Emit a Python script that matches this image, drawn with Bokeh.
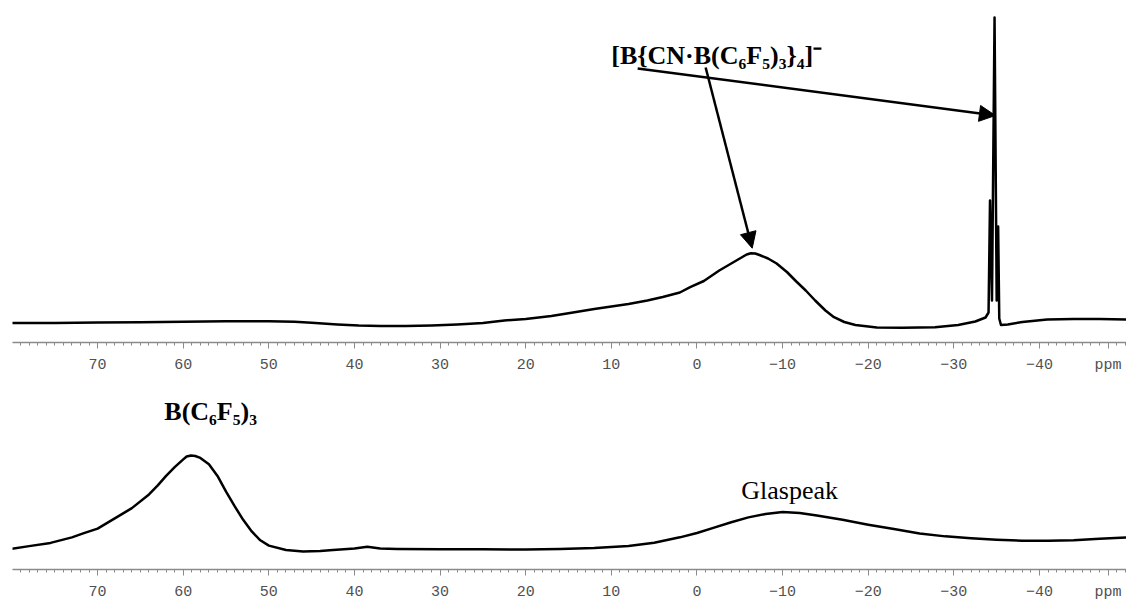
from bokeh.plotting import figure
from bokeh.layouts import column
from bokeh.models import (Range1d, FixedTicker, CustomJSTickFormatter, Label,
                          Arrow, NormalHead)
from bokeh.embed import file_html
from bokeh.resources import INLINE

# ---------------- data ----------------
# chemical shift axis (ppm, reversed)
X_LEFT, X_RIGHT = 79.94, -50.16
MAJOR_TICKS = [70, 60, 50, 40, 30, 20, 10, 0, -10, -20, -30, -40]
UNIT_TICK = -48          # position of the "ppm" unit text on the axis
MINOR_TICKS = list(range(-50, 80))

# top spectrum: [B{CN.B(C6F5)3}4]- sample (relative intensity)
top_ppm = [80, 75, 70, 65, 60, 55, 50, 47, 45, 42, 39.5, 37, 34, 31, 28, 25,
           22.5, 20, 17, 14.3, 12, 10, 8, 5.8, 4, 2, 0.8, -0.8, -2.6, -4,
           -5.2, -5.8, -6.3, -6.8, -7.3, -8.3, -9.3, -10.5, -11.6, -12.7,
           -13.8, -15, -16, -17.2, -18.5, -21, -24, -27.8, -30.5, -32.5,
           -33.7, -34.05, -34.22, -34.45, -34.75, -35.0, -35.17, -35.3, -35.5,
           -36.3, -38, -40.9, -44, -47, -50.2]
top_int = [19.5, 19.5, 20, 20.3, 20.7, 21.2, 21.3, 20.7, 19.7, 18, 17, 16.5,
           16.5, 17, 18, 19.5, 22, 23.5, 26.5, 30.3, 33.5, 36, 38.5, 42, 45.5,
           50, 55.3, 61.5, 72, 79, 85, 88, 89.3, 89, 87.5, 84, 79, 70.5, 61,
           52, 42, 32, 25.3, 20.5, 17.5, 15, 14.7, 15.3, 17.5, 21, 25, 30, 142,
           42, 325, 42, 116, 24, 17.5, 18, 20.5, 23, 23.5, 23.5, 23]

# bottom spectrum: B(C6F5)3 reference (relative intensity)
bot_ppm = [80, 78, 75.5, 73, 71.6, 70, 67.7, 66, 64, 63, 62, 61, 60, 59.6,
           59.1, 58.6, 58, 57, 56, 55, 54, 53, 52, 51, 50, 48, 46, 44, 42.5,
           40, 38.5, 37, 35, 30, 25, 20, 16, 12, 8, 5, 2, 0, -2, -4, -6, -8,
           -10, -12, -14, -17, -20, -23, -26, -29, -32, -35, -38, -41, -44,
           -47, -50.2]
bot_int = [21.3, 24, 27.3, 33, 37.3, 42, 54, 63, 77, 86, 96, 105, 113, 116,
           117, 116.5, 114.5, 108, 96, 80, 65, 51, 39, 30, 24.5, 20, 18.5, 19,
           20, 21.5, 23.3, 21.5, 21, 20.7, 20.7, 20.5, 21, 22, 24, 27.5, 33,
           37.5, 43, 48.5, 53.5, 57, 59, 58, 55.5, 51, 46, 41.5, 37, 34, 32,
           30.5, 29.5, 29.5, 30, 31.5, 33]

ANION_LABEL = "[B{CN·B(C₆F₅)₃}₄]⁻"
BORANE_LABEL = "B(C₆F₅)₃"
GLASS_LABEL = "Glaspeak"
UNIT_LABEL = "ppm"

AXIS_GREY = "#8a8a8a"
LABEL_GREY = "#505050"


def make_panel(height, frame_h, ppm, inten):
    p = figure(width=1126, height=height, output_backend="svg",
               toolbar_location=None,
               x_range=Range1d(X_LEFT, X_RIGHT), y_range=Range1d(0, frame_h),
               y_axis_location=None,
               min_border_left=12, min_border_right=0, min_border_top=0,
               min_border_bottom=height - frame_h)
    p.grid.visible = False
    p.outline_line_color = None
    p.background_fill_color = "white"
    p.border_fill_color = "white"
    ax = p.xaxis[0]
    ax.ticker = FixedTicker(ticks=MAJOR_TICKS + [UNIT_TICK],
                            minor_ticks=MINOR_TICKS)
    ax.formatter = CustomJSTickFormatter(
        args=dict(unit_tick=UNIT_TICK, unit=UNIT_LABEL),
        code="if (tick == unit_tick) { return unit; }"
             " return tick < 0 ? '\\u2212' + Math.abs(tick) : String(tick);")
    ax.axis_line_color = AXIS_GREY
    ax.axis_line_width = 1.5
    ax.major_tick_line_color = AXIS_GREY
    ax.minor_tick_line_color = AXIS_GREY
    ax.major_tick_in = 0
    ax.major_tick_out = 6
    ax.minor_tick_in = 0
    ax.minor_tick_out = 3
    ax.major_label_text_font = "Liberation Mono"
    ax.major_label_text_font_size = "15px"
    ax.major_label_text_color = LABEL_GREY
    ax.major_label_standoff = 8
    p.line(ppm, inten, line_color="black", line_width=2.5, line_join="round")
    return p


top = make_panel(378, 342, top_ppm, top_int)
bot = make_panel(225, 196, bot_ppm, bot_int)

# annotations, top panel
i_broad = top_int.index(max(top_int[:40]))
i_spike = top_int.index(max(top_int))
top.add_layout(Label(x=-2.3, y=287, text=ANION_LABEL, text_align="center",
                     text_baseline="middle", text_font="Liberation Serif",
                     text_font_style="bold", text_font_size="26px",
                     text_color="black"))
top.add_layout(Arrow(x_start=-1.01, y_start=275,
                     x_end=top_ppm[i_broad] - 0.15, y_end=top_int[i_broad] + 5,
                     line_width=2.5, line_color="black",
                     end=NormalHead(size=16, fill_color="black",
                                    line_color="black")))
top.add_layout(Arrow(x_start=6.93, y_start=274,
                     x_end=top_ppm[i_spike] - 0.1, y_end=227,
                     line_width=2.5, line_color="black",
                     end=NormalHead(size=16, fill_color="black",
                                    line_color="black")))

# annotations, bottom panel
bot.add_layout(Label(x=56.8, y=162, text=BORANE_LABEL, text_align="center",
                     text_baseline="middle", text_font="Liberation Serif",
                     text_font_style="bold", text_font_size="26px",
                     text_color="black"))
bot.add_layout(Label(x=-10.82, y=81, text=GLASS_LABEL, text_align="center",
                     text_baseline="middle", text_font="Liberation Serif",
                     text_font_size="26px", text_color="black"))

layout = column(top, bot, spacing=0)
open("out.html", "w").write(file_html(layout, INLINE))
